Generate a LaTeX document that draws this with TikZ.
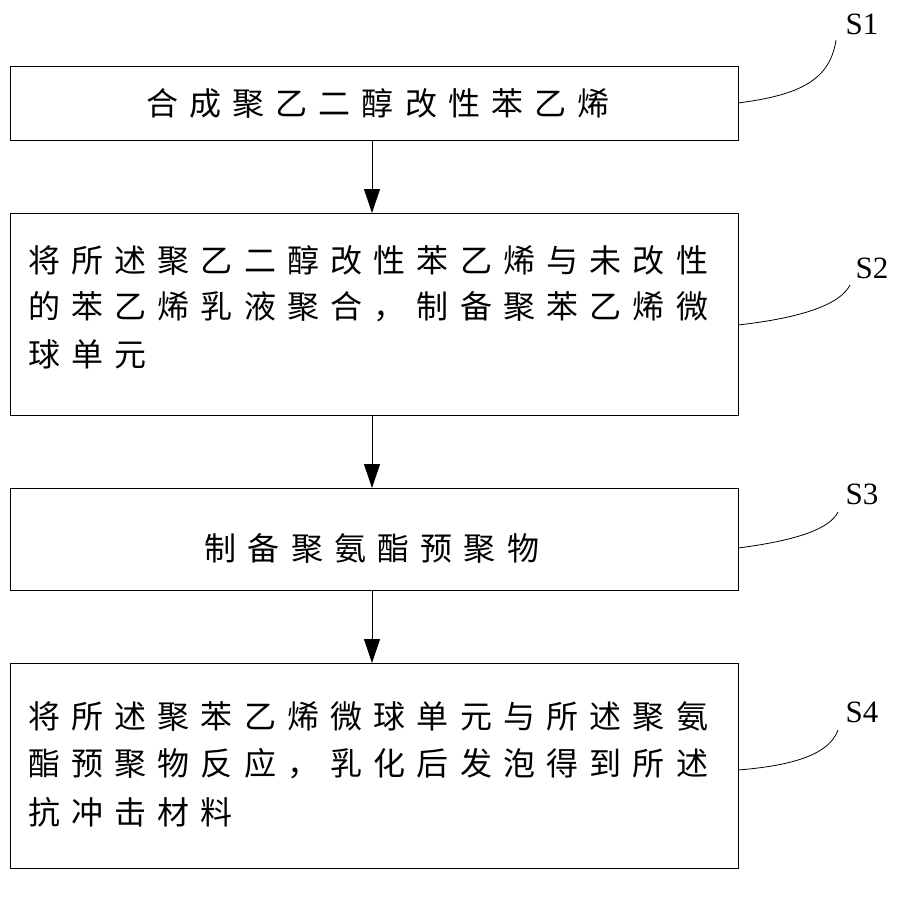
\documentclass[tikz,border=0pt]{standalone}
\usepackage{fontspec}
\usetikzlibrary{arrows.meta}
\setmainfont{Liberation Serif}
\newfontfamily\cjk[LetterSpace=35]{Noto Sans CJK SC}
\begin{document}
\begin{tikzpicture}[x=1pt,y=-1pt,
 box/.style={draw,line width=1pt},
 txt/.style={font=\cjk\fontsize{32}{32}\selectfont,anchor=west,inner sep=0},
 lab/.style={font=\fontsize{31}{31}\selectfont,inner sep=0},
 arr/.style={-{Triangle[length=24pt,width=16pt]},line width=1pt}]
\useasboundingbox (0,0) rectangle (909,898);
\draw[box] (10,66) rectangle (738,140);
\draw[box] (10,213) rectangle (738,415);
\draw[box] (10,488) rectangle (738,590);
\draw[box] (10,663) rectangle (738,868);
\coordinate (b1) at (372,140); \coordinate (t2) at (372,213);
\coordinate (b2) at (372,415); \coordinate (t3) at (372,488);
\coordinate (b3) at (372,590); \coordinate (t4) at (372,663);
\draw[arr] (b1)--(t2); \draw[arr] (b2)--(t3); \draw[arr] (b3)--(t4);
\node[txt,anchor=center] (a) at (378,103) {合成聚乙二醇改性苯乙烯};
\node[txt] (b) at (28,260) {将所述聚乙二醇改性苯乙烯与未改性};
\node[txt] (c) at (28,307) {的苯乙烯乳液聚合，制备聚苯乙烯微};
\node[txt] (d) at (28,354) {球单元};
\node[txt,anchor=center] (e) at (372,548) {制备聚氨酯预聚物};
\node[txt] (f) at (28,716) {将所述聚苯乙烯微球单元与所述聚氨};
\node[txt] (g) at (28,764) {酯预聚物反应，乳化后发泡得到所述};
\node[txt] (h) at (28,812) {抗冲击材料};
\node[lab] (s1) at (862,24) {S1};
\node[lab] (s2) at (872,268) {S2};
\node[lab] (s3) at (862,494) {S3};
\node[lab] (s4) at (862,712) {S4};
\draw[line width=0.8pt] (738,103) .. controls (800,95) and (830,80) .. (836,40);
\draw[line width=0.8pt] (738,325) .. controls (800,318) and (840,305) .. (850,285);
\draw[line width=0.8pt] (738,548) .. controls (800,540) and (830,528) .. (838,512);
\draw[line width=0.8pt] (738,770) .. controls (800,765) and (830,752) .. (838,730);
\end{tikzpicture}
\end{document}
